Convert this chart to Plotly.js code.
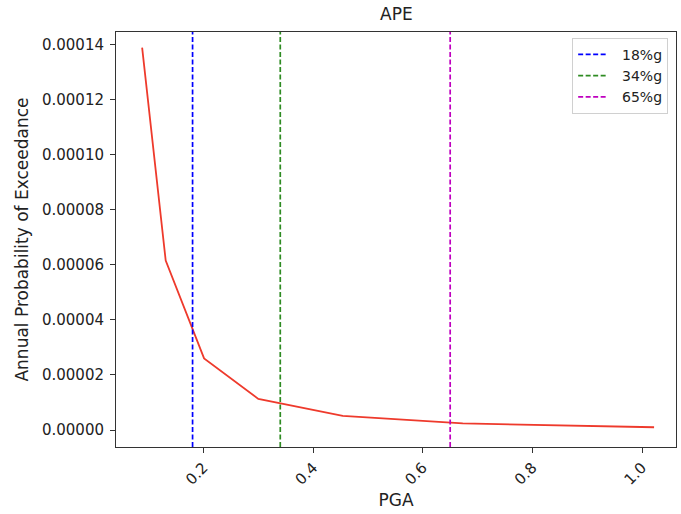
<!DOCTYPE html>
<html>
<head>
<meta charset="utf-8">
<script src="https://cdn.plot.ly/plotly-3.0.1.min.js"></script>
<style>html,body{margin:0;padding:0;background:#fff;}#chart{width:681px;height:514px;}</style>
</head>
<body>
<div id="chart"></div>
<script>
// Data
const pga = [0.088, 0.131, 0.201, 0.300, 0.454, 0.673, 1.022];
const ape = [0.0001388, 0.0000615, 0.0000260, 0.0000113, 0.0000051, 0.0000024, 0.0000010];
const thresholdValues = [0.18, 0.34, 0.65];
const thresholdLabels = ['18%g', '34%g', '65%g'];
const thresholdColors = ['#0000ff', '#2e8b22', '#bf00bf'];
const xTickVals = [0.2, 0.4, 0.6, 0.8, 1.0];
const xTickText = ['0.2', '0.4', '0.6', '0.8', '1.0'];
const yTickVals = [0, 0.00002, 0.00004, 0.00006, 0.00008, 0.0001, 0.00012, 0.00014];

const xRange = [0.0403, 1.062];
const yRange = [-0.00000617, 0.00014447];

const traces = [{
  x: pga, y: ape, type: 'scatter', mode: 'lines',
  line: {color: '#ee3a2c', width: 1.8}, showlegend: false, hoverinfo: 'skip'
}];
thresholdValues.forEach((v, i) => {
  traces.push({
    x: [v, v], y: yRange, type: 'scatter', mode: 'lines',
    name: '\u00a0\u00a0' + thresholdLabels[i],
    line: {color: thresholdColors[i], width: 1.7, dash: '5px,2.5px'}
  });
});

const font = {family: 'DejaVu Sans, sans-serif', color: '#222'};
const layout = {
  width: 681, height: 514,
  margin: {l: 116, r: 5, t: 32, b: 67, pad: 0},
  paper_bgcolor: '#fff', plot_bgcolor: '#fff',
  font: Object.assign({size: 14}, font),
  title: {text: 'APE', font: Object.assign({size: 17}, font), x: 0.582, xanchor: 'center', y: 0.972, yanchor: 'middle'},
  xaxis: {
    range: xRange, tickvals: xTickVals, ticktext: xTickText, tickangle: -45,
    showgrid: false, zeroline: false, showline: true, mirror: true, linecolor: '#333', linewidth: 1,
    ticks: 'outside', ticklen: 5, tickcolor: '#333', tickfont: Object.assign({size: 15}, font),
    title: {text: 'PGA', font: Object.assign({size: 17}, font), standoff: 6}
  },
  yaxis: {
    range: yRange, tickvals: yTickVals, tickformat: '.5f',
    showgrid: false, zeroline: false, showline: true, mirror: true, linecolor: '#333', linewidth: 1,
    ticks: 'outside', ticklen: 5, tickcolor: '#333', tickfont: Object.assign({size: 15}, font),
    ticklabelstandoff: 3,
    title: {text: 'Annual Probability of Exceedance', font: Object.assign({size: 17}, font), standoff: 9}
  },
  legend: {
    x: 0.986, xanchor: 'right', y: 0.986, yanchor: 'top',
    bgcolor: 'rgba(255,255,255,0.9)', bordercolor: '#d0d0d0', borderwidth: 1,
    font: Object.assign({size: 14}, font), tracegroupgap: 0
  },
  showlegend: true
};
Plotly.newPlot('chart', traces, layout, {staticPlot: true, displayModeBar: false});
</script>
</body>
</html>
